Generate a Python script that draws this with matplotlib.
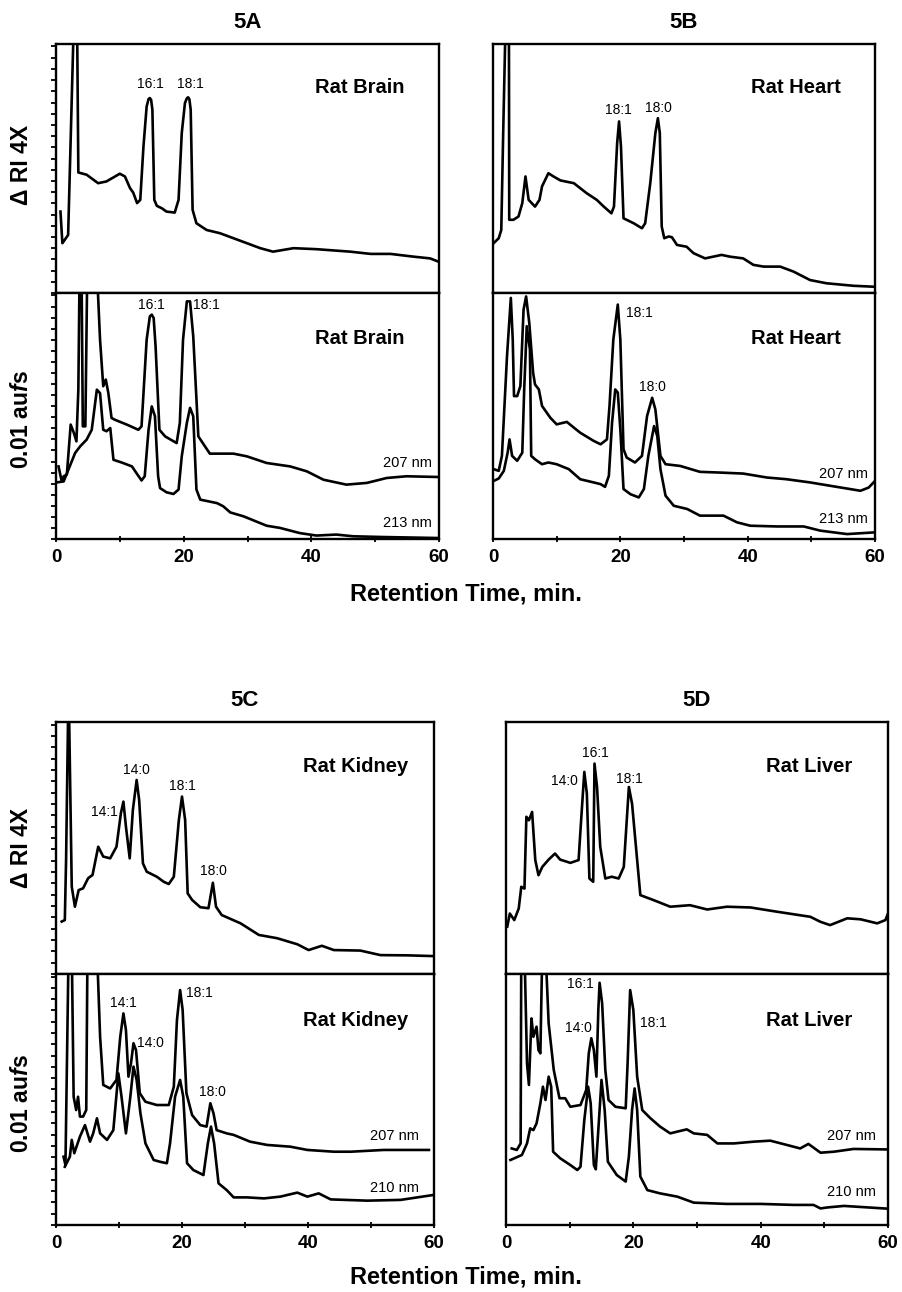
import numpy as np
import matplotlib
matplotlib.use("Agg")
import matplotlib.pyplot as plt

plt.rcParams["font.family"] = ["Liberation Sans", "DejaVu Sans"]
plt.rcParams["mathtext.fontset"] = "custom"
plt.rcParams["mathtext.it"] = "Liberation Sans:italic:bold"
plt.rcParams["mathtext.rm"] = "Liberation Sans:bold"

W, H = 902, 1292
OVER = 110  # off-scale (peak runs above the frame)

# ---- 5A rat brain ----
brain_ri_t = [0.7, 1.0, 1.9, 2.8, 3.3, 3.5, 4.8, 6.6, 7.9, 10.0, 10.8, 11.6, 12.1, 12.7, 13.2, 13.7,
              14.2, 14.5, 14.7, 14.9, 15.1, 15.4, 15.8, 16.6, 17.3, 18.6, 19.2, 19.7, 20.2, 20.5, 20.7,
              20.9, 21.1, 21.4, 22.0, 23.6, 25.7, 27.8, 29.9, 32.0, 34.0, 35.6, 37.2, 40.8, 46.1, 49.3,
              52.4, 56.0, 58.6, 59.9]
brain_ri_v = [32.7, 20.0, 23.3, OVER, OVER, 48.4, 47.5, 44.1, 44.8, 47.9, 46.8, 42.1, 40.3, 36.1, 37.4,
              58.8, 74.9, 77.9, 78.3, 77.6, 73.6, 37.4, 35.0, 34.0, 32.7, 32.3, 37.4, 64.2, 76.3, 78.2,
              78.6, 77.8, 73.6, 33.4, 28.0, 25.3, 24.0, 22.0, 20.0, 18.0, 16.6, 17.3, 18.0, 17.6, 16.6,
              15.7, 15.7, 14.6, 13.9, 12.6]
brain_207_t = [0.4, 0.9, 1.2, 1.7, 2.3, 2.8, 3.2, 3.5, 3.7, 4.0, 4.2, 4.6, 4.9, 6.4, 6.9, 7.4, 7.8, 8.2,
               8.7, 9.2, 11.1, 12.9, 13.4, 14.2, 14.7, 15.0, 15.3, 15.6, 16.2, 17.1, 18.9, 19.4, 19.9,
               20.5, 21.0, 21.5, 22.3, 24.1, 27.8, 29.9, 33.0, 36.7, 39.3, 41.9, 45.5, 48.7, 51.8, 54.9,
               59.9]
brain_207_v = [29.5, 23.4, 25.5, 26.2, 46.5, 43.1, 39.7, 60.7, OVER, OVER, 45.8, 45.8, OVER, OVER, 81.0,
               62.1, 64.8, 59.3, 49.2, 48.5, 46.5, 44.4, 45.8, 81.0, 90.5, 91.2, 89.8, 78.3, 44.4, 41.7,
               39.0, 47.2, 81.0, 96.6, 96.6, 82.4, 41.7, 34.7, 34.7, 33.6, 30.9, 29.5, 27.5, 24.1, 22.1,
               22.8, 24.8, 25.5, 25.2]
brain_213_t = [0.1, 1.2, 3.0, 3.8, 4.8, 5.6, 6.4, 6.9, 7.4, 7.9, 8.5, 9.0, 10.5, 11.9, 12.6, 13.4, 13.9,
               14.5, 15.0, 15.5, 16.0, 16.3, 17.3, 18.4, 19.2, 19.7, 20.5, 21.0, 21.5, 22.0, 22.6, 25.2,
               26.2, 27.3, 29.4, 31.0, 33.0, 35.1, 38.2, 40.8, 43.9, 46.6, 51.3, 59.9]
brain_213_v = [23.0, 23.4, 35.0, 37.7, 40.4, 44.4, 60.7, 59.3, 44.4, 43.8, 45.1, 32.2, 30.9, 29.5, 26.8,
               23.8, 25.5, 44.4, 53.9, 49.9, 25.5, 20.7, 19.0, 18.3, 20.1, 33.6, 47.2, 53.3, 49.9, 20.1,
               16.0, 14.6, 13.3, 10.8, 9.2, 7.5, 5.4, 4.5, 2.4, 1.4, 1.8, 1.1, 0.8, 0.4]

# ---- 5B rat heart ----
heart_ri_t = [0.1, 0.9, 1.3, 1.6, 1.9, 2.0, 2.5, 2.55, 3.2, 4.0, 4.6, 5.1, 5.6, 6.6, 7.3, 7.7, 8.7, 9.5,
              10.6, 12.7, 14.7, 16.3, 17.4, 18.6, 19.0, 19.5, 19.8, 20.1, 20.5, 22.1, 23.4, 23.9, 24.7,
              25.5, 25.9, 26.2, 26.5, 26.9, 27.6, 28.1, 28.9, 30.4, 31.5, 33.3, 34.6, 35.9, 37.2, 39.3,
              40.9, 42.5, 45.1, 47.2, 49.8, 52.4, 56.6, 60.0]
heart_ri_v = [20.0, 22.0, 25.3, 64.2, 100.0, OVER, OVER, 29.4, 29.4, 30.7, 36.1, 46.8, 37.4, 34.7, 37.4,
              42.8, 48.1, 46.8, 45.2, 44.1, 40.1, 37.4, 34.7, 32.0, 34.7, 60.2, 68.9, 58.8, 30.0, 28.0,
              26.0, 28.0, 44.1, 64.2, 70.2, 64.2, 26.7, 22.0, 22.7, 22.4, 19.3, 18.6, 16.0, 13.9, 14.6,
              15.3, 14.6, 13.9, 11.3, 10.6, 10.6, 8.6, 5.2, 3.9, 2.9, 2.5]
heart_207_t = [0.1, 0.9, 1.4, 2.2, 2.8, 3.1, 3.3, 3.8, 4.3, 4.8, 5.2, 5.7, 6.3, 6.6, 7.2, 7.7, 9.0, 10.0,
               11.6, 12.4, 13.7, 15.8, 16.9, 17.9, 18.3, 18.9, 19.6, 20.0, 20.5, 21.0, 22.3, 23.4, 24.2,
               25.0, 25.5, 26.3, 27.1, 29.4, 32.5, 35.7, 39.3, 43.0, 46.1, 49.8, 53.5, 56.1, 57.7, 59.0,
               60.0]
heart_207_v = [28.4, 27.7, 33.8, 74.3, 98.0, 81.1, 58.1, 58.1, 62.2, 93.2, 98.6, 87.8, 67.6, 62.8, 60.8,
               54.1, 49.3, 46.6, 47.6, 45.9, 43.2, 39.9, 38.5, 40.5, 54.1, 81.1, 95.3, 81.1, 36.5, 33.1,
               31.1, 33.8, 50.0, 57.4, 52.7, 33.8, 30.4, 29.7, 27.3, 27.0, 26.6, 25.0, 24.3, 23.0, 21.4,
               20.3, 19.6, 20.9, 23.6]
heart_213_t = [0.1, 0.9, 1.7, 2.3, 2.6, 3.0, 3.8, 4.6, 4.9, 5.3, 5.8, 6.0, 6.6, 7.7, 8.7, 10.0, 11.9,
               13.7, 15.8, 16.9, 17.6, 18.2, 18.7, 19.2, 19.6, 20.0, 20.5, 21.6, 22.9, 23.7, 24.4, 25.3,
               25.8, 26.3, 27.1, 28.4, 30.5, 32.5, 36.2, 38.3, 40.4, 44.6, 48.8, 51.4, 55.6, 60.0]
heart_213_v = [23.6, 24.6, 27.7, 35.1, 40.5, 33.8, 31.8, 35.1, 60.8, 86.5, 77.0, 33.8, 32.4, 30.4, 31.1,
               30.4, 28.4, 24.3, 23.0, 22.3, 21.2, 25.7, 47.3, 60.8, 59.5, 44.6, 20.3, 18.2, 16.9, 20.3,
               33.8, 45.9, 41.9, 28.4, 17.6, 13.5, 12.2, 9.5, 9.5, 6.8, 5.4, 5.1, 5.1, 3.4, 2.0, 2.7]

# ---- 5C rat kidney ----
kidney_ri_t = [0.9, 1.4, 1.6, 1.9, 2.1, 2.5, 3.0, 3.6, 4.3, 5.1, 5.8, 6.7, 7.5, 8.6, 9.6, 10.3, 10.7,
               11.1, 11.7, 12.2, 12.8, 13.2, 13.8, 14.4, 16.0, 17.1, 17.9, 18.7, 19.5, 20.0, 20.5, 20.9,
               21.6, 22.9, 24.2, 24.9, 25.4, 26.3, 29.3, 32.2, 35.1, 38.3, 40.1, 42.2, 44.1, 48.3, 51.5,
               55.8, 60.0]
kidney_ri_v = [20.8, 21.4, 45.2, 99.5, 99.5, 34.7, 26.7, 33.3, 34.0, 38.0, 39.3, 50.5, 46.6, 45.9, 50.5,
               63.8, 68.4, 58.5, 45.9, 65.1, 77.0, 69.0, 43.9, 40.6, 38.6, 36.6, 35.7, 38.6, 61.1, 70.4,
               61.1, 32.0, 29.4, 26.5, 26.1, 36.2, 26.7, 23.4, 20.1, 15.5, 14.2, 11.8, 9.5, 11.2, 9.5,
               9.3, 7.5, 7.4, 7.1]
kidney_207_t = [1.2, 1.5, 2.0, 2.5, 2.8, 3.2, 3.5, 3.8, 4.3, 4.8, 5.0, 6.5, 7.0, 7.5, 8.6, 9.6, 10.2,
                10.7, 11.1, 11.5, 11.9, 12.3, 12.7, 13.3, 14.2, 16.0, 17.9, 18.7, 19.2, 19.7, 20.1, 20.7,
                21.6, 22.9, 23.9, 24.5, 25.0, 25.5, 27.1, 28.2, 30.8, 33.5, 37.2, 39.9, 44.1, 46.8, 52.0,
                59.2]
kidney_207_v = [27.2, 23.9, OVER, OVER, 51.1, 45.8, 51.1, 43.2, 43.2, 45.8, OVER, OVER, 75.0, 55.8, 54.4,
                57.8, 75.0, 84.3, 77.7, 59.1, 64.4, 72.4, 69.7, 52.5, 49.1, 47.8, 47.8, 55.1, 81.7, 93.6,
                85.7, 52.5, 43.8, 39.8, 39.2, 48.5, 44.5, 37.8, 36.5, 35.9, 33.2, 31.9, 31.2, 29.9, 29.2,
                29.2, 29.9, 29.9]
kidney_210_t = [1.4, 2.2, 2.5, 2.9, 3.8, 4.6, 5.4, 5.9, 6.5, 7.0, 8.1, 9.1, 9.9, 10.4, 11.1, 11.8, 12.3,
                12.8, 13.4, 14.2, 15.5, 16.5, 17.6, 18.1, 18.9, 19.7, 20.2, 20.8, 21.8, 23.4, 24.1, 24.6,
                25.1, 25.8, 27.1, 28.2, 30.3, 33.0, 35.6, 38.3, 39.9, 41.7, 43.6, 49.4, 54.7, 60.0]
kidney_210_v = [23.2, 27.2, 33.9, 28.6, 35.2, 39.8, 33.2, 36.5, 42.5, 36.5, 33.9, 37.8, 60.4, 51.1, 36.5,
                51.1, 63.1, 57.8, 44.5, 32.5, 25.9, 25.2, 24.6, 32.5, 51.1, 57.8, 51.1, 24.6, 21.9, 19.9,
                32.5, 39.2, 32.5, 16.6, 13.9, 11.0, 11.0, 10.6, 11.3, 12.9, 11.3, 12.6, 10.2, 9.7, 10.0,
                12.0]

# ---- 5D rat liver ----
liver_ri_t = [0.2, 0.6, 1.3, 2.0, 2.4, 2.9, 3.2, 3.6, 4.1, 4.6, 5.1, 5.7, 6.7, 7.7, 8.5, 10.1, 11.4,
              11.8, 12.3, 12.7, 13.1, 13.7, 13.9, 14.3, 14.8, 15.6, 16.6, 17.7, 18.5, 19.3, 19.8, 20.6,
              21.1, 23.2, 25.8, 28.9, 31.6, 34.7, 38.4, 42.6, 47.8, 49.4, 50.9, 53.6, 55.7, 58.3, 59.6,
              60.0]
liver_ri_v = [18.8, 24.0, 21.4, 26.0, 34.6, 33.9, 62.4, 61.0, 64.3, 45.2, 39.2, 42.5, 45.4, 47.8, 45.4,
              44.1, 45.2, 61.0, 80.2, 71.6, 37.9, 36.6, 83.5, 74.2, 50.5, 37.9, 38.6, 37.9, 42.5, 74.2,
              67.6, 45.2, 31.3, 29.3, 26.7, 27.3, 25.6, 26.7, 26.4, 24.7, 22.7, 20.7, 19.4, 22.1, 21.7,
              20.1, 21.4, 24.0]
liver_207_t = [0.9, 1.7, 2.3, 2.4, 2.9, 3.3, 3.6, 4.0, 4.3, 4.8, 5.1, 5.4, 5.7, 6.2, 6.7, 7.5, 8.4, 9.3,
               10.1, 11.7, 12.6, 13.0, 13.4, 13.8, 14.2, 14.5, 14.7, 15.1, 15.6, 16.1, 17.2, 18.8, 19.1,
               19.5, 20.0, 20.6, 21.4, 22.7, 24.2, 25.8, 26.9, 28.4, 29.5, 31.6, 33.2, 35.8, 38.9, 41.5,
               44.1, 46.2, 47.5, 49.4, 51.5, 54.6, 60.0]
liver_207_v = [30.5, 29.9, 32.5, OVER, OVER, 64.4, 55.8, 82.3, 75.0, 79.0, 69.7, 68.4, OVER, OVER, 80.3,
               61.8, 50.5, 50.5, 47.1, 47.8, 53.8, 68.4, 74.4, 69.7, 59.1, 85.7, 96.5, 88.3, 61.8, 49.8,
               47.1, 46.5, 64.4, 93.6, 85.7, 59.1, 45.8, 42.5, 39.2, 36.5, 37.2, 38.1, 36.5, 35.9, 32.5,
               32.5, 33.2, 33.6, 31.9, 30.5, 32.3, 28.8, 29.2, 30.3, 30.1]
liver_210_t = [0.7, 2.5, 3.3, 3.8, 4.3, 4.8, 5.4, 5.8, 6.2, 6.7, 7.1, 7.4, 8.5, 10.1, 11.2, 11.7, 12.3,
               12.9, 13.3, 13.8, 14.1, 14.6, 15.0, 15.5, 16.0, 17.4, 18.8, 19.3, 19.8, 20.2, 20.6, 21.1,
               22.2, 24.2, 26.9, 29.5, 34.7, 40.0, 45.2, 48.3, 49.4, 50.5, 53.1, 60.0]
liver_210_v = [25.9, 27.9, 32.5, 38.5, 37.8, 40.5, 48.5, 55.1, 49.8, 59.1, 55.1, 29.2, 26.6, 23.9, 21.9,
               23.2, 41.8, 55.1, 48.5, 23.9, 22.2, 41.8, 57.8, 45.8, 25.2, 19.9, 17.3, 27.2, 45.8, 54.4,
               45.8, 19.3, 13.9, 12.6, 11.3, 8.9, 8.4, 8.4, 8.0, 8.0, 6.6, 7.0, 7.6, 6.5]

x_ticks = [0, 20, 40, 60]


def px_box(left, top, right, bottom):
    return [left / W, 1 - bottom / H, (right - left) / W, (bottom - top) / H]


def style_axes(ax, left_ticks, show_x):
    ax.set_xlim(0, 60)
    ax.set_ylim(0, 100)
    for s in ax.spines.values():
        s.set_linewidth(1.7)
    if left_ticks:
        ax.set_yticks(np.arange(0, 100, 4.5))
        ax.tick_params(axis="y", direction="out", length=3.5, width=1.3, labelleft=False)
    else:
        ax.set_yticks([])
    if show_x:
        ax.set_xticks(x_ticks)
        ax.set_xticks([10, 30, 50], minor=True)
        ax.tick_params(axis="x", which="both", direction="inout", length=5, width=1.3,
                       labelsize=13.5, pad=5)
        for lbl in ax.get_xticklabels():
            lbl.set_fontweight("bold")
    else:
        ax.set_xticks([])


def panel(box, title, name, ri, uv, ri_labels, uv_labels, wl_labels, left_ticks):
    left, top, mid, right, bottom = box
    ax1 = fig.add_axes(px_box(left, top, right, mid))
    ax2 = fig.add_axes(px_box(left, mid, right, bottom))
    ax1.plot(ri[0], ri[1], color="black", lw=1.9, solid_joinstyle="round")
    for t, v in uv:
        ax2.plot(t, v, color="black", lw=1.9, solid_joinstyle="round")
    style_axes(ax1, left_ticks, False)
    style_axes(ax2, left_ticks, True)
    for ax, labels in ((ax1, ri_labels), (ax2, uv_labels)):
        for txt, x, y, ha in labels:
            ax.text(x, y, txt, fontsize=10, ha=ha, va="center")
    ax1.text(47.6, 82.5, name, fontsize=14.5, fontweight="bold", ha="center", va="center")
    ax2.text(47.6, 81.5, name, fontsize=14.5, fontweight="bold", ha="center", va="center")
    for txt, x, y in wl_labels:
        ax2.text(x, y, txt, fontsize=10.5, ha="center", va="center")
    fig.text((left + right) / 2 / W, 1 - (top - 22) / H, title, fontsize=16,
             fontweight="bold", ha="center", va="center")
    return ax1, ax2


fig = plt.figure(figsize=(W / 100, H / 100), dpi=100)

panel((56, 44, 293, 439, 539), "5A", "Rat Brain",
      (brain_ri_t, brain_ri_v),
      [(brain_207_t, brain_207_v), (brain_213_t, brain_213_v)],
      [("16:1", 14.8, 84, "center"), ("18:1", 21.0, 84, "center")],
      [("16:1", 15.0, 95.3, "center"), ("18:1", 21.5, 95.3, "left")],
      [("207 nm", 55.0, 30.9), ("213 nm", 55.0, 6.5)], True)

panel((493, 44, 293, 875, 539), "5B", "Rat Heart",
      (heart_ri_t, heart_ri_v),
      [(heart_207_t, heart_207_v), (heart_213_t, heart_213_v)],
      [("18:1", 19.7, 73.6, "center"), ("18:0", 26.0, 74.3, "center")],
      [("18:1", 20.9, 91.9, "left"), ("18:0", 25.1, 61.9, "center")],
      [("207 nm", 55.0, 26.4), ("213 nm", 55.0, 8.1)], False)

panel((56, 722, 974, 434, 1225), "5C", "Rat Kidney",
      (kidney_ri_t, kidney_ri_v),
      [(kidney_207_t, kidney_207_v), (kidney_210_t, kidney_210_v)],
      [("14:1", 7.6, 64.4, "center"), ("14:0", 12.8, 81.0, "center"),
       ("18:1", 20.1, 74.6, "center"), ("18:0", 25.0, 41.0, "center")],
      [("14:1", 10.7, 88.6, "center"), ("14:0", 15.0, 72.6, "center"),
       ("18:1", 22.8, 92.3, "center"), ("18:0", 24.9, 53.1, "center")],
      [("207 nm", 53.7, 35.6), ("210 nm", 53.7, 14.9)], True)

panel((506, 722, 974, 888, 1225), "5D", "Rat Liver",
      (liver_ri_t, liver_ri_v),
      [(liver_207_t, liver_207_v), (liver_210_t, liver_210_v)],
      [("14:0", 9.2, 76.6, "center"), ("16:1", 14.0, 87.7, "center"),
       ("18:1", 19.3, 77.5, "center")],
      [("16:1", 11.7, 96.0, "center"), ("14:0", 11.4, 78.4, "center"),
       ("18:1", 23.2, 80.6, "center")],
      [("207 nm", 54.3, 35.6), ("210 nm", 54.3, 13.3)], False)

# axis titles
for yc in (165, 848):
    fig.text(22 / W, 1 - yc / H, "\u0394 RI 4X", rotation=90, fontsize=16.5,
             fontweight="bold", ha="center", va="center")
for yc in (420, 1104):
    fig.text(22 / W, 1 - yc / H, r"0.01 au$\mathit{f}$s", rotation=90, fontsize=16.5,
             fontweight="bold", ha="center", va="center")
for yc in (594, 1277):
    fig.text(466 / W, 1 - yc / H, "Retention Time, min.", fontsize=17,
             fontweight="bold", ha="center", va="center")

fig.savefig("out.png", dpi=100)
